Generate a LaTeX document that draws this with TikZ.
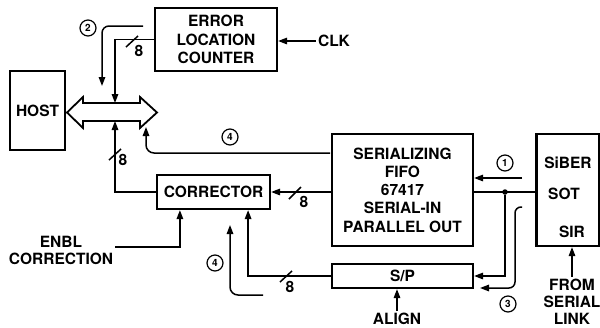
\documentclass[tikz,border=0pt]{standalone}
\usepackage{fontspec}
\setmainfont{TeX Gyre Heros}
\usetikzlibrary{arrows.meta}
\begin{document}
\begin{tikzpicture}[x=1pt,y=-1pt,
  box/.style={draw, line width=2.2pt, font=\bfseries\fontsize{15.5}{18.3}\selectfont, align=center, inner sep=0pt},
  lbl/.style={font=\bfseries\fontsize{15.5}{17}\selectfont, align=center, inner sep=2pt},
  conn/.style={line width=1.5pt},
  arr/.style={conn, -{Triangle[length=9pt,width=6.5pt]}},
  slashmark/.style={line width=1.5pt},
  num/.style={circle, draw, line width=1.2pt, minimum size=16pt, inner sep=0pt, font=\bfseries\fontsize{10}{10}\selectfont},
  dot/.style={circle, fill, inner sep=0pt, minimum size=5.5pt},
  bus/.style={line width=1.8pt, fill=white, line join=miter}]
\useasboundingbox (0,0) rectangle (600,327);

% boxes
\node[box, minimum width=55pt, minimum height=79pt] (host) at (37.5,110.5) {HOST};
\node[box, minimum width=122pt, minimum height=63pt] (elc) at (216,39.5) {ERROR\\LOCATION\\COUNTER};
\node[box, minimum width=141pt, minimum height=112pt] (fifo) at (402.5,190) {SERIALIZING\\FIFO\\67417\\SERIAL-IN\\PARALLEL OUT};
\node[box, minimum width=113pt, minimum height=34pt] (corr) at (213.5,192) {CORRECTOR};
\node[box, minimum width=141pt, minimum height=24pt] (sp) at (402.5,276) {S/P};
\node[box, minimum width=63pt, minimum height=112pt] (siber) at (568,190) {};
\node[lbl] (tsiber) at (568,163) {SiBER};
\node[lbl] (tsot) at (564,194) {SOT};
\node[lbl] (tsir) at (572,232) {SIR};

% bus double arrow
\draw[bus] (67,112.5) -- (83,97) -- (83,103) -- (140,103) -- (140,97) -- (157,112.5)
  -- (140,128) -- (140,121) -- (83,121) -- (83,128) -- cycle;
\coordinate (bustop) at (115,103);
\coordinate (busbot) at (115,121);

% labels
\node[lbl] (clk) at (334,41) {CLK};
\node[lbl] (enbl) at (61,250) {ENBL\\CORRECTION};
\node[lbl] (align) at (397,319) {ALIGN};
\node[lbl] (from) at (572,302) {FROM\\SERIAL\\LINK};

% CLK
\draw[arr] (clk.west) -- (clk.west -| elc.east);

% ELC to bus
\draw[arr] (elc.west) -| (bustop);
\draw[slashmark] (126,47) -- (138,36);
\node[lbl] (n8a) at (139,51) {8};

% arrow 2
\coordinate (a2s) at (143,26);
\coordinate (a2e) at (102,86);
\draw[arr, rounded corners=7pt] (a2s) -| (a2e);
\node[num] (c2) at (88,28) {2};

% corrector to bus
\draw[arr] (corr.west) -| (busbot);
\draw[slashmark] (109,160) -- (121,149);
\node[lbl] (n8b) at (123,160) {8};

% arrow 4 (top)
\coordinate (a4s) at (330,153);
\coordinate (a4e) at (146,127);
\draw[arr, rounded corners=8pt] (a4s) -| (a4e);
\node[num] (c4a) at (230,137) {4};

% FIFO to corrector
\draw[arr] (fifo.west |- corr.east) -- (corr.east);
\draw[slashmark] (289,199) -- (301,187);
\node[lbl] (n8c) at (304,202) {8};

% arrow 1
\coordinate (a1s) at (522,178);
\draw[arr] (a1s) -- (a1s -| fifo.east);
\node[num] (c1) at (505,163) {1};

% SOT line
\coordinate (sot) at (siber.west |- 0,192);
\node[dot] (j) at (505,192) {};
\draw[conn] (sot) -- (sot -| fifo.east);
\draw[arr] (j) |- (sp.east);

% arrow 3
\coordinate (a3s) at (522,207);
\coordinate (a3c) at (515,288);
\coordinate (a3e) at (480,288);
\draw[arr, rounded corners=6pt] (a3s) -| (a3c) -- (a3e);
\node[num] (c3) at (508,304) {3};

% S/P to corrector
\draw[arr] (sp.west) -| ([xshift=-23pt]corr.south east);
\draw[slashmark] (280,282) -- (292,271);
\node[lbl] (n8d) at (290,287) {8};

% arrow 4 (bottom)
\coordinate (b4s) at (263,295);
\coordinate (b4e) at (230,225);
\draw[arr, rounded corners=8pt] (b4s) -| (b4e);
\node[num] (c4b) at (215,263) {4};

% ENBL CORRECTION
\draw[arr] ([yshift=3pt]enbl.east) -| ([xshift=24pt]corr.south west);

% ALIGN
\draw[arr] (align.north) -- (align.north |- sp.south);

% FROM SERIAL LINK
\draw[arr] (from.north) -- (from.north |- siber.south);
\end{tikzpicture}
\end{document}
